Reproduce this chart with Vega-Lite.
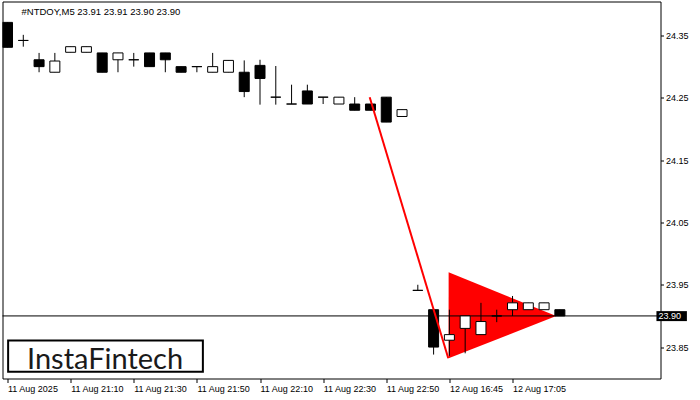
{
  "$schema": "https://vega.github.io/schema/vega-lite/v6.json",
  "autosize": "none",
  "width": 658,
  "height": 377,
  "padding": {"left": 2.5, "top": 1.5, "right": 39.5, "bottom": 21.5},
  "background": "white",
  "config": {
    "view": {"stroke": "black", "strokeWidth": 1},
    "font": "Liberation Sans",
    "axis": {
      "title": null, "domain": false, "grid": false,
      "tickColor": "black", "tickWidth": 1,
      "labelColor": "black", "labelFont": "Liberation Sans", "labelFontSize": 9,
      "labelOverlap": false, "labelBound": false, "labelFlush": false
    }
  },
  "datasets": {
    "bars": [
      {"i": 0, "o": 24.371, "h": 24.371, "l": 24.331, "c": 24.331},
      {"i": 1, "o": 24.342, "h": 24.351, "l": 24.332, "c": 24.342},
      {"i": 2, "o": 24.311, "h": 24.322, "l": 24.291, "c": 24.300},
      {"i": 3, "o": 24.291, "h": 24.322, "l": 24.291, "c": 24.309},
      {"i": 4, "o": 24.323, "h": 24.332, "l": 24.323, "c": 24.332},
      {"i": 5, "o": 24.323, "h": 24.332, "l": 24.323, "c": 24.332},
      {"i": 6, "o": 24.322, "h": 24.322, "l": 24.291, "c": 24.291},
      {"i": 7, "o": 24.311, "h": 24.322, "l": 24.291, "c": 24.322},
      {"i": 8, "o": 24.311, "h": 24.322, "l": 24.300, "c": 24.311},
      {"i": 9, "o": 24.322, "h": 24.322, "l": 24.300, "c": 24.300},
      {"i": 10, "o": 24.322, "h": 24.322, "l": 24.291, "c": 24.311},
      {"i": 11, "o": 24.300, "h": 24.300, "l": 24.291, "c": 24.291},
      {"i": 12, "o": 24.300, "h": 24.300, "l": 24.291, "c": 24.300},
      {"i": 13, "o": 24.291, "h": 24.322, "l": 24.291, "c": 24.300},
      {"i": 14, "o": 24.291, "h": 24.310, "l": 24.291, "c": 24.310},
      {"i": 15, "o": 24.291, "h": 24.310, "l": 24.251, "c": 24.260},
      {"i": 16, "o": 24.302, "h": 24.311, "l": 24.239, "c": 24.281},
      {"i": 17, "o": 24.251, "h": 24.301, "l": 24.239, "c": 24.251},
      {"i": 18, "o": 24.240, "h": 24.271, "l": 24.240, "c": 24.240},
      {"i": 19, "o": 24.261, "h": 24.271, "l": 24.240, "c": 24.240},
      {"i": 20, "o": 24.251, "h": 24.251, "l": 24.240, "c": 24.251},
      {"i": 21, "o": 24.240, "h": 24.251, "l": 24.240, "c": 24.251},
      {"i": 22, "o": 24.240, "h": 24.251, "l": 24.230, "c": 24.230},
      {"i": 23, "o": 24.240, "h": 24.240, "l": 24.230, "c": 24.230},
      {"i": 24, "o": 24.251, "h": 24.251, "l": 24.211, "c": 24.211},
      {"i": 25, "o": 24.220, "h": 24.231, "l": 24.220, "c": 24.231},
      {"i": 26, "o": 23.941, "h": 23.950, "l": 23.941, "c": 23.941},
      {"i": 27, "o": 23.910, "h": 23.910, "l": 23.838, "c": 23.850},
      {"i": 28, "o": 23.861, "h": 23.910, "l": 23.836, "c": 23.870},
      {"i": 29, "o": 23.880, "h": 23.900, "l": 23.840, "c": 23.900},
      {"i": 30, "o": 23.870, "h": 23.921, "l": 23.870, "c": 23.891},
      {"i": 31, "o": 23.900, "h": 23.910, "l": 23.890, "c": 23.900},
      {"i": 32, "o": 23.910, "h": 23.932, "l": 23.900, "c": 23.921},
      {"i": 33, "o": 23.910, "h": 23.921, "l": 23.910, "c": 23.921},
      {"i": 34, "o": 23.910, "h": 23.921, "l": 23.910, "c": 23.921},
      {"i": 35, "o": 23.910, "h": 23.910, "l": 23.900, "c": 23.900}
    ],
    "pennant": [
      {"i": 27.95, "top": 23.970, "bot": 23.832},
      {"i": 34.77, "top": 23.900, "bot": 23.900}
    ],
    "pole": [
      {"i": 22.95, "p": 24.251},
      {"i": 27.93, "p": 23.832}
    ],
    "one": [{}]
  },
  "layer": [
    {
      "data": {"name": "pennant"},
      "mark": {"type": "area", "color": "#ff0000", "opacity": 1, "clip": true},
      "encoding": {
        "x": {"field": "i", "type": "quantitative", "scale": {"domain": [0, 41.06], "nice": false, "zero": false},
          "axis": {"values": [0, 4, 8, 12, 16, 20, 24, 28, 32], "labelExpr": "['11 Aug 2025','11 Aug 21:10','11 Aug 21:30','11 Aug 21:50','11 Aug 22:10','11 Aug 22:30','11 Aug 22:50','12 Aug 16:45','12 Aug 17:05'][round(datum.value/4)]", "tickSize": 4, "labelAlign": "left", "labelPadding": 2}},
        "y": {"field": "top", "type": "quantitative", "scale": {"domain": [23.7996, 24.4045], "nice": false, "zero": false},
          "axis": {"orient": "right", "values": [23.85, 23.95, 24.05, 24.15, 24.25, 24.35], "format": ".2f", "tickSize": 3, "labelPadding": 2}},
        "y2": {"field": "bot"}
      }
    },
    {
      "data": {"name": "one"},
      "mark": {"type": "rule", "color": "black", "strokeWidth": 1},
      "encoding": {
        "y": {"datum": 23.9, "type": "quantitative"}
      }
    },
    {
      "data": {"name": "bars"},
      "mark": {"type": "rule", "color": "black", "strokeWidth": 1, "clip": true},
      "encoding": {
        "x": {"field": "i", "type": "quantitative"},
        "y": {"field": "l", "type": "quantitative"},
        "y2": {"field": "h"}
      }
    },
    {
      "data": {"name": "bars"},
      "mark": {"type": "bar", "size": 10, "stroke": "black", "strokeWidth": 1, "clip": true},
      "encoding": {
        "x": {"field": "i", "type": "quantitative"},
        "y": {"field": "o", "type": "quantitative"},
        "y2": {"field": "c"},
        "fill": {"condition": {"test": "datum.c < datum.o", "value": "black"}, "value": "white"}
      }
    },
    {
      "data": {"name": "pole"},
      "mark": {"type": "line", "color": "#ff0000", "strokeWidth": 2, "clip": true},
      "encoding": {
        "x": {"field": "i", "type": "quantitative"},
        "y": {"field": "p", "type": "quantitative"}
      }
    },
    {
      "data": {"name": "one"},
      "mark": {"type": "rect", "fill": "black"},
      "encoding": {
        "x": {"datum": 41.12, "type": "quantitative"},
        "x2": {"datum": 43.05},
        "y": {"datum": 23.9077, "type": "quantitative"},
        "y2": {"datum": 23.8917}
      }
    },
    {
      "data": {"name": "one"},
      "mark": {"type": "text", "text": "23.90", "color": "white", "font": "Liberation Sans", "fontSize": 9, "align": "left", "baseline": "middle"},
      "encoding": {
        "x": {"datum": 41.25, "type": "quantitative"},
        "y": {"datum": 23.9, "type": "quantitative"}
      }
    },
    {
      "data": {"name": "one"},
      "mark": {"type": "text", "text": "#NTDOY,M5  23.91 23.91 23.90 23.90", "color": "black", "font": "Liberation Sans", "fontSize": 9.5, "align": "left", "baseline": "alphabetic"},
      "encoding": {
        "x": {"datum": 0.89, "type": "quantitative"},
        "y": {"datum": 24.383, "type": "quantitative"}
      }
    },
    {
      "data": {"name": "one"},
      "mark": {"type": "rect", "fill": "white", "stroke": "black", "strokeWidth": 2},
      "encoding": {
        "x": {"datum": 0.04, "type": "quantitative"},
        "x2": {"datum": 12.38},
        "y": {"datum": 23.8607, "type": "quantitative"},
        "y2": {"datum": 23.8106}
      }
    },
    {
      "data": {"name": "one"},
      "mark": {"type": "text", "text": "InstaFintech", "color": "#1a1a1a", "font": "Lato", "fontSize": 29, "fontWeight": "normal", "align": "center", "baseline": "alphabetic"},
      "encoding": {
        "x": {"datum": 6.18, "type": "quantitative"},
        "y": {"datum": 23.8154, "type": "quantitative"}
      }
    }
  ]
}
